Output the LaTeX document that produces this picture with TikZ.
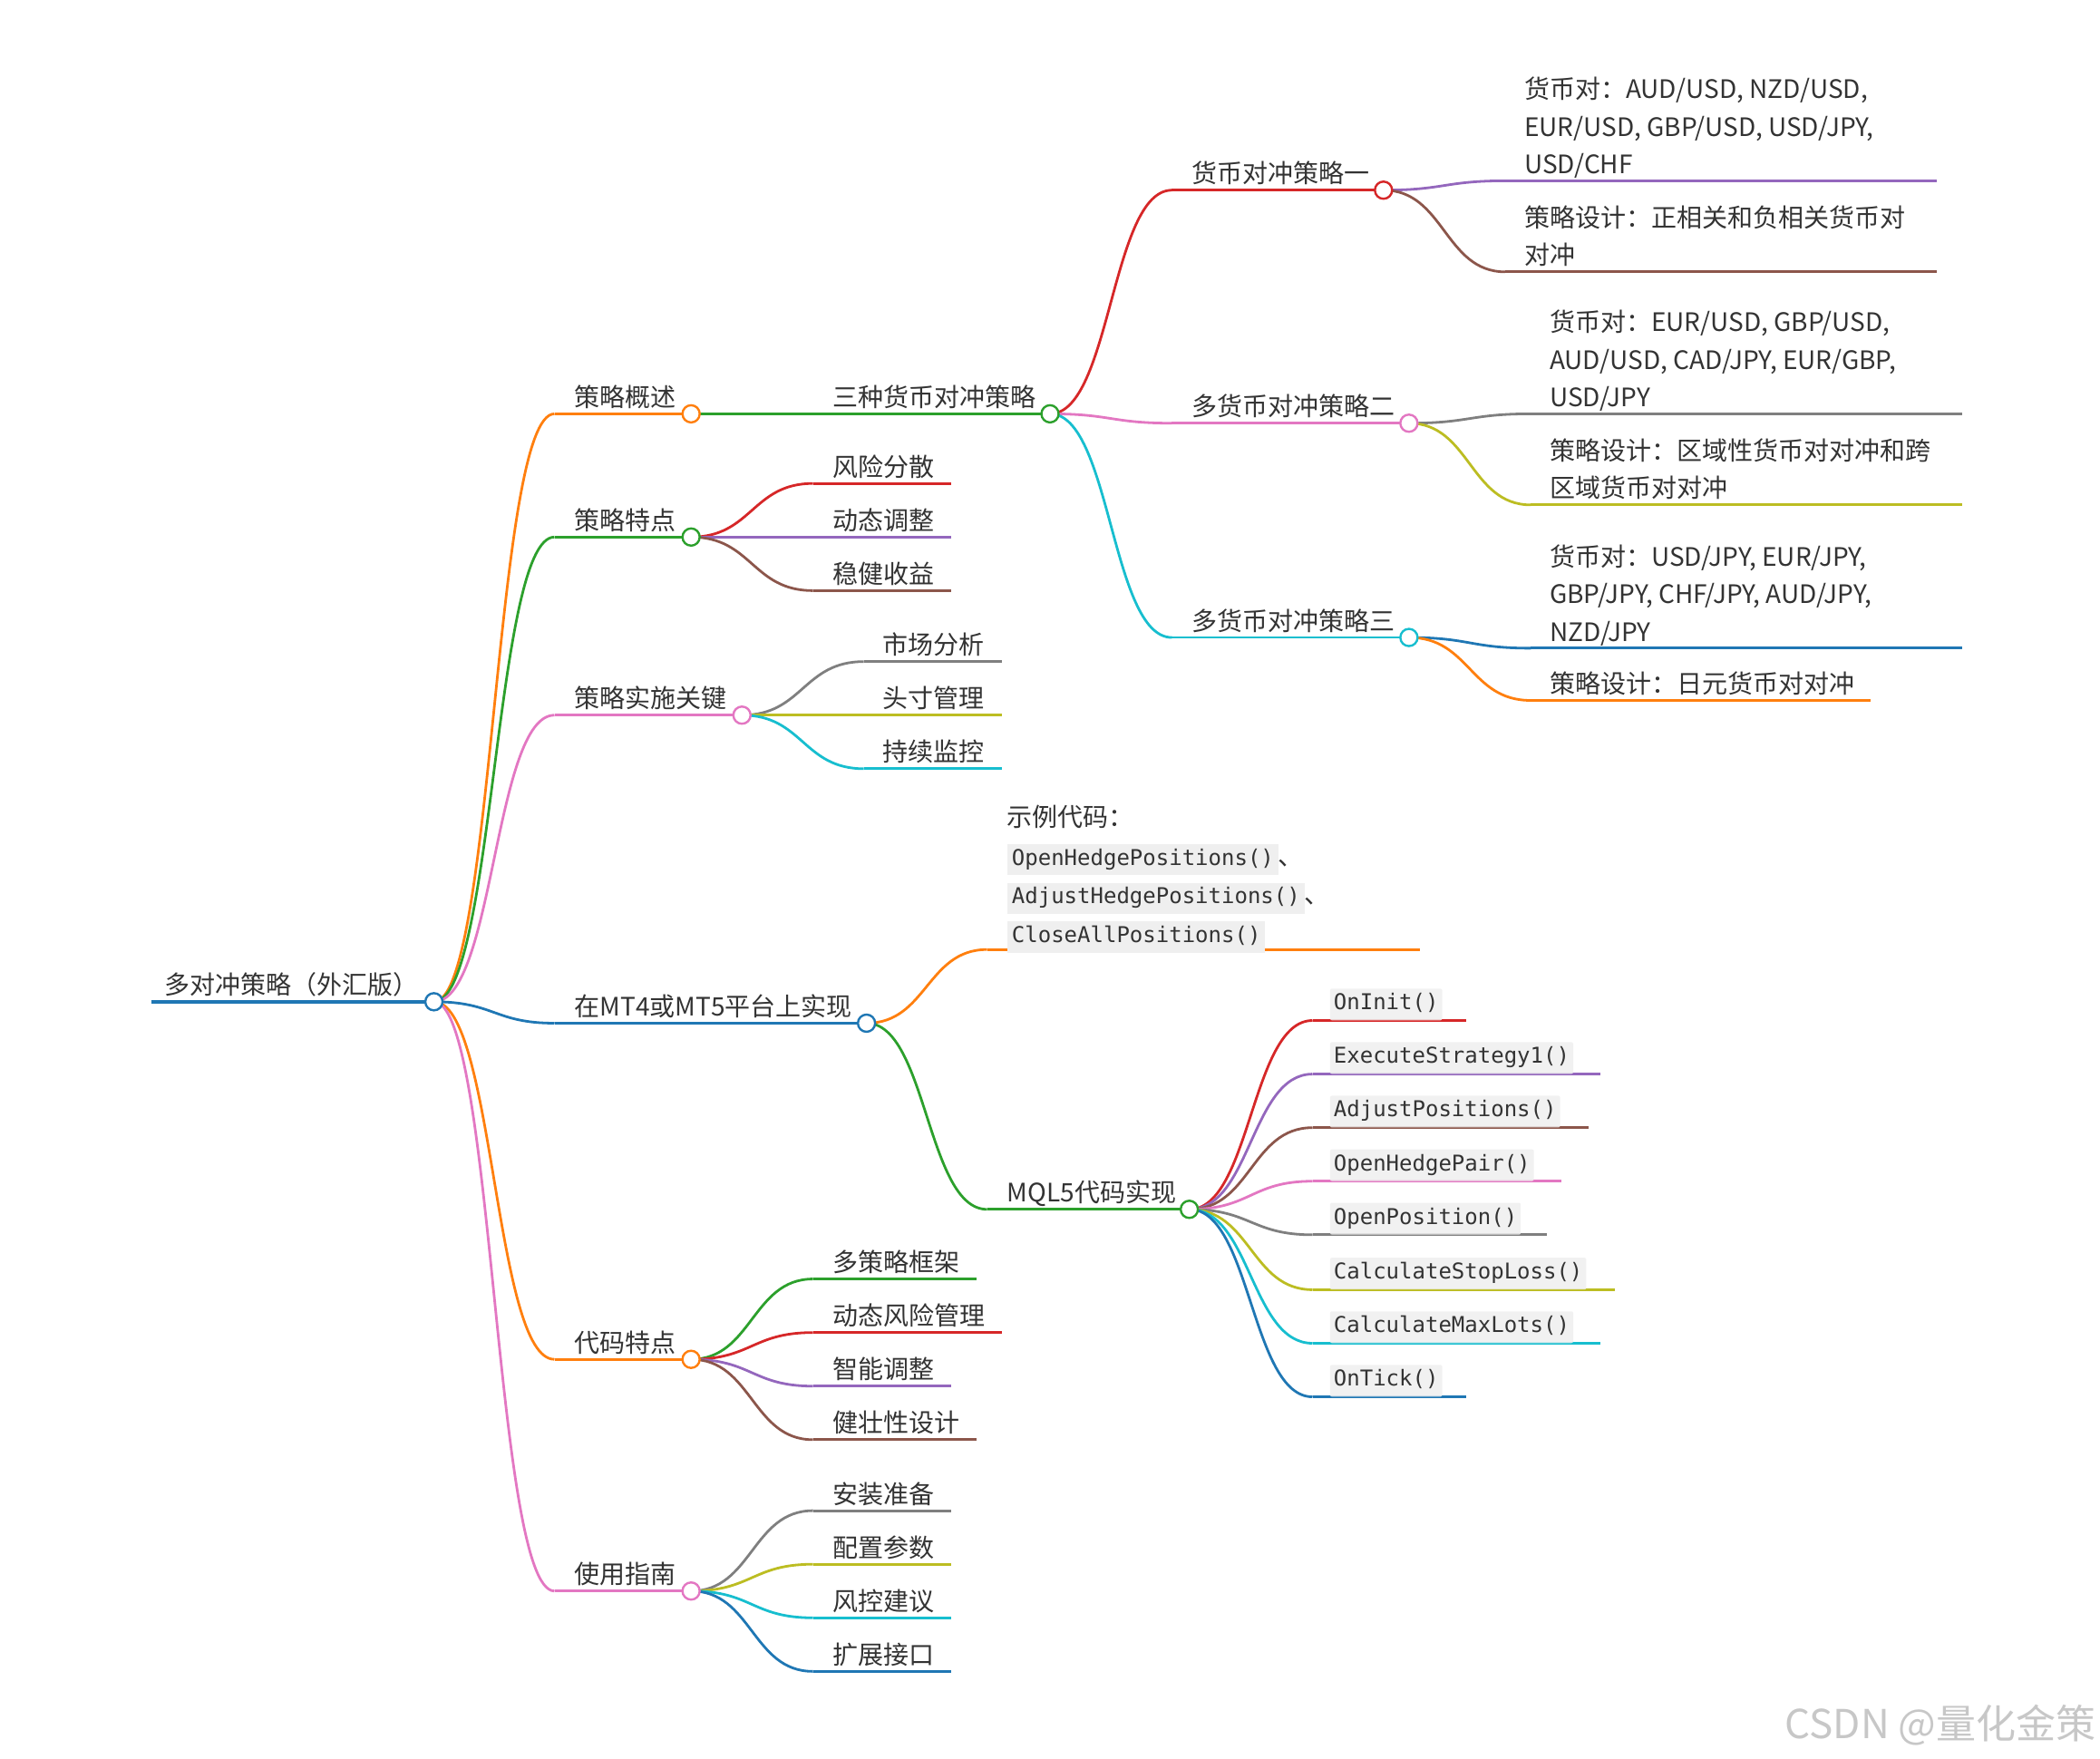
\documentclass[tikz,border=0pt]{standalone}
\usepackage{fontspec}
\setmainfont{Noto Sans CJK SC}
\newfontfamily\monof{DejaVu Sans Mono}
\usetikzlibrary{calc}
\definecolor{cblue}{HTML}{1F77B4}
\definecolor{corange}{HTML}{FF7F0E}
\definecolor{cgreen}{HTML}{2CA02C}
\definecolor{cred}{HTML}{D62728}
\definecolor{cpurple}{HTML}{9467BD}
\definecolor{cbrown}{HTML}{8C564B}
\definecolor{cpink}{HTML}{E377C2}
\definecolor{cgray}{HTML}{7F7F7F}
\definecolor{colive}{HTML}{BCBD22}
\definecolor{ccyan}{HTML}{17BECF}
\definecolor{codebg}{HTML}{EFEFEF}
\definecolor{txt}{HTML}{333333}
% link from parent circle to child start (d3 horizontal link)
\newcommand\mlink[3]{%
  \path ($(#1)!0.5!(#2)$) coordinate (mmid);
  \draw[#3,line width=2.8pt] (#1) .. controls (mmid |- #1) and (mmid |- #2) .. (#2);}
% text item: id, parent, colour, start x, y, end x, text x, text
\newcommand\mmtxt[8]{%
  \coordinate (s#1) at (#4,#5);
  \coordinate (c#1) at (#6,#5);
  \mlink{c#2}{s#1}{#3}
  \draw[#3,line width=2.8pt] (s#1) -- (c#1);
  \node[lbl] (t#1) at (#7,#5-1.8) {#8};}
% code item: id, parent, colour, y, end x, text
\newcommand\mmcode[6]{%
  \coordinate (s#1) at (980,#4);
  \coordinate (c#1) at (#5,#4);
  \mlink{c#2}{s#1}{#3}
  \draw[#3,line width=2.8pt] (s#1) -- (c#1);
  \node[codebox] (t#1) at (993,#4) {#6};}
\newcommand\cbx[1]{{\setlength{\fboxsep}{5pt}\colorbox{codebg}{\rule[-6pt]{0pt}{24pt}\monof\fontsize{24}{28}\selectfont #1}}}
\begin{document}
\begin{tikzpicture}[x=1.477pt,y=-1.477pt,
  lbl/.style={anchor=south west, inner sep=0pt, align=left, text=txt,
    font=\fontsize{28}{41.4}\selectfont, execute at end node={\rule[-5pt]{0pt}{0pt}}},
  codebox/.style={anchor=south west, inner xsep=4pt, inner ysep=5.5pt, text height=18pt,
    text depth=6pt, fill=codebg, fill opacity=0.85, text opacity=1, text=txt, rounded corners=2pt,
    font=\monof\fontsize{24}{28}\selectfont},
  dot/.style={circle, draw=#1, fill=white, line width=2.4pt, minimum size=19pt, inner sep=0pt}]
\useasboundingbox (0,0) rectangle (1568,1313);
\fill[white] (0,0) rectangle (1568,1313);

% root
\coordinate (sr) at (113,748);
\coordinate (cr) at (324,748);
\draw[cblue,line width=4pt] (sr) -- (cr);
\node[lbl] (tr) at (123,746.2) {多对冲策略（外汇版）};

% level 1
\mmtxt{a1}{r}{corange}{414}{309}{516}{429}{策略概述}
\mmtxt{a2}{r}{cgreen}{414}{401}{516}{429}{策略特点}
\mmtxt{a3}{r}{cpink}{414}{534}{554}{429}{策略实施关键}
\mmtxt{a4}{r}{cblue}{414}{764}{647}{429}{在MT4或MT5平台上实现}
\mmtxt{a5}{r}{corange}{414}{1015}{516}{429}{代码特点}
\mmtxt{a6}{r}{cpink}{414}{1188}{516}{429}{使用指南}

% level 2
\mmtxt{b1}{a1}{cgreen}{607}{309}{784}{622}{三种货币对冲策略}
\mmtxt{b2}{a2}{cred}{607}{361}{710}{622}{风险分散}
\mmtxt{b3}{a2}{cpurple}{607}{401}{710}{622}{动态调整}
\mmtxt{b4}{a2}{cbrown}{607}{441}{710}{622}{稳健收益}
\mmtxt{b5}{a3}{cgray}{645}{494}{748}{659}{市场分析}
\mmtxt{b6}{a3}{colive}{645}{534}{748}{659}{头寸管理}
\mmtxt{b7}{a3}{ccyan}{645}{574}{748}{659}{持续监控}
% example code block
\coordinate (sb8) at (737,709);
\coordinate (cb8) at (1060,709);
\mlink{ca4}{sb8}{corange}
\draw[corange,line width=2.8pt] (sb8) -- (cb8);
\node[anchor=south west, inner sep=0pt, align=left, text=txt, font=\fontsize{28}{42.8}\selectfont] (tb8) at (752,711.5)
  {示例代码：\\\cbx{OpenHedgePositions()}、\\\cbx{AdjustHedgePositions()}、\\\cbx{CloseAllPositions()}};
\mmtxt{b9}{a4}{cgreen}{737}{903}{888}{752}{MQL5代码实现}
\mmtxt{b10}{a5}{cgreen}{607}{955}{729}{622}{多策略框架}
\mmtxt{b11}{a5}{cred}{607}{995}{748}{622}{动态风险管理}
\mmtxt{b12}{a5}{cpurple}{607}{1035}{710}{622}{智能调整}
\mmtxt{b13}{a5}{cbrown}{607}{1075}{729}{622}{健壮性设计}
\mmtxt{b14}{a6}{cgray}{607}{1128}{710}{622}{安装准备}
\mmtxt{b15}{a6}{colive}{607}{1168}{710}{622}{配置参数}
\mmtxt{b16}{a6}{ccyan}{607}{1208}{710}{622}{风控建议}
\mmtxt{b17}{a6}{cblue}{607}{1248}{710}{622}{扩展接口}

% level 3
\mmtxt{c1}{b1}{cred}{875}{142}{1033}{890}{货币对冲策略一}
\mmtxt{c2}{b1}{cpink}{875}{316}{1052}{890}{多货币对冲策略二}
\mmtxt{c3}{b1}{ccyan}{875}{476}{1052}{890}{多货币对冲策略三}
\mmcode{d1}{b9}{cred}{762}{1095}{OnInit()}
\mmcode{d2}{b9}{cpurple}{802}{1195}{ExecuteStrategy1()}
\mmcode{d3}{b9}{cbrown}{842}{1186}{AdjustPositions()}
\mmcode{d4}{b9}{cpink}{882}{1166}{OpenHedgePair()}
\mmcode{d5}{b9}{cgray}{922}{1155}{OpenPosition()}
\mmcode{d6}{b9}{colive}{963}{1206}{CalculateStopLoss()}
\mmcode{d7}{b9}{ccyan}{1003}{1195}{CalculateMaxLots()}
\mmcode{d8}{b9}{cblue}{1043}{1095}{OnTick()}

% level 4
\mmtxt{e1}{c1}{cpurple}{1124}{135}{1446}{1138}{货币对：AUD/USD, NZD/USD,\\EUR/USD, GBP/USD, USD/JPY,\\USD/CHF}
\mmtxt{e2}{c1}{cbrown}{1124}{203}{1446}{1138}{策略设计：正相关和负相关货币对\\对冲}
\mmtxt{e3}{c2}{cgray}{1143}{309}{1465}{1157}{货币对：EUR/USD, GBP/USD,\\AUD/USD, CAD/JPY, EUR/GBP,\\USD/JPY}
\mmtxt{e4}{c2}{colive}{1143}{377}{1465}{1157}{策略设计：区域性货币对对冲和跨\\区域货币对对冲}
\mmtxt{e5}{c3}{cblue}{1143}{484}{1465}{1157}{货币对：USD/JPY, EUR/JPY,\\GBP/JPY, CHF/JPY, AUD/JPY,\\NZD/JPY}
\mmtxt{e6}{c3}{corange}{1143}{523}{1397}{1157}{策略设计：日元货币对对冲}

% circles on nodes with children
\node[dot=cblue] (nr) at (cr) {};
\node[dot=corange] (na1) at (ca1) {};
\node[dot=cgreen] (na2) at (ca2) {};
\node[dot=cpink] (na3) at (ca3) {};
\node[dot=cblue] (na4) at (ca4) {};
\node[dot=corange] (na5) at (ca5) {};
\node[dot=cpink] (na6) at (ca6) {};
\node[dot=cgreen] (nb1) at (cb1) {};
\node[dot=cgreen] (nb9) at (cb9) {};
\node[dot=cred] (nc1) at (cc1) {};
\node[dot=cpink] (nc2) at (cc2) {};
\node[dot=ccyan] (nc3) at (cc3) {};

% watermark
\node[anchor=east, inner sep=0pt, text=black!22, font=\fontsize{44}{50}\selectfont] (wm) at (1565,1288) {CSDN @量化金策};
\end{tikzpicture}
\end{document}
